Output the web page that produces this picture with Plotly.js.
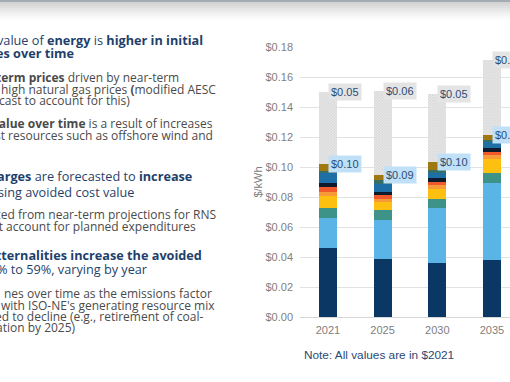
<!DOCTYPE html>
<html>
<head>
<meta charset="utf-8">
<script src="https://cdn.plot.ly/plotly-3.0.1.min.js"></script>
<style>html,body{margin:0;padding:0;background:#fff;}#chart{width:510px;height:382px;}</style>
</head>
<body>
<div id="chart"></div>
<script>
// ---- data ----
const years = ["2021", "2025", "2030", "2035"];
const componentNames = ["Component 1", "Component 2", "Component 3", "Component 4", "Component 5",
  "Component 6", "Component 7", "Component 8", "Component 9", "Component 10"];
const comp1  = [0.0460, 0.0387, 0.0360, 0.0383];
const comp2  = [0.0200, 0.0263, 0.0365, 0.0513];
const comp3  = [0.0065, 0.0061, 0.0065, 0.0064];
const comp4  = [0.0085, 0.0054, 0.0066, 0.0096];
const comp5  = [0.0025, 0.0025, 0.0022, 0.0022];
const comp6  = [0.0035, 0.0025, 0.0022, 0.0022];
const comp7  = [0.0025, 0.0020, 0.0027, 0.0030];
const comp8  = [0.0065, 0.0050, 0.0036, 0.0037];
const comp9  = [0.0015, 0.0030, 0.0017, 0.0013];
const comp10 = [0.0048, 0.0030, 0.0053, 0.0036];
const externality = [0.0480, 0.0562, 0.0452, 0.0500];
const components = [comp1, comp2, comp3, comp4, comp5, comp6, comp7, comp8, comp9, comp10];

// ---- styles ----
const compColors = ["#0b3764", "#5ab4e6", "#3d9387", "#fdc010", "#f79a3a", "#f1592a",
  "#0f1a2c", "#1d6fa6", "#356f6a", "#a07812"];
const FONT = "Liberation Sans, Arial, sans-serif";
const SLIDE_FONT = "Open Sans, Liberation Sans, Arial, sans-serif";
const BLUE = "#1f3f6b";
const GRAY = "#4a4a4a";

const traces = components.map((vals, i) => ({
  type: "bar", x: years, y: vals, name: componentNames[i], width: 0.33,
  marker: {color: compColors[i], line: {width: 0}}, hoverinfo: "skip", showlegend: false
}));
traces.push({
  type: "bar", x: years, y: externality, name: "Externalities", width: 0.33,
  marker: {color: "#e6e6e6", line: {width: 0},
    pattern: {shape: "x", fgcolor: "#cdcdcd", bgcolor: "#e9e9e9", size: 2, solidity: 0.4}},
  hoverinfo: "skip", showlegend: false
});

// totals for labels
const baseTotals = years.map((_, j) => components.reduce((s, c) => s + c[j], 0));
const fullTotals = years.map((_, j) => baseTotals[j] + externality[j]);
const fmt = v => "$" + (Math.round(v * 100) / 100).toFixed(2);

const annotations = [];
years.forEach((yr, j) => {
  annotations.push({x: j, y: fullTotals[j], xref: "x", yref: "y", xanchor: "left", yanchor: "middle",
    text: fmt(externality[j]), showarrow: false, bgcolor: "#e4e4e4", borderpad: 2,
    font: {family: FONT, size: 11, color: "#2b4c74"}});
  annotations.push({x: j, y: baseTotals[j], xref: "x", yref: "y", xanchor: "left", yanchor: "middle",
    text: fmt(baseTotals[j]), showarrow: false, bgcolor: "#bfe0f7", borderpad: 2,
    font: {family: FONT, size: 11, color: "#2b4c74"}});
});

// pixel -> paper helpers (plot area: x 300..510, y 47..317)
const px = x => (x - 300) / 210;
const py = y => (317 - y) / 270;

const H = 12.7, B = 12.0;
const textLines = [
  [204, 40, H, BLUE, "value of <b>energy</b> is <b>higher in initial</b>"],
  [75, 53.3, H, BLUE, "<b>es over time</b>"],
  [180, 77.3, B, GRAY, "<b>term prices</b> driven by near-term"],
  [217, 89.3, B, GRAY, "high natural gas prices <b>(</b>modified AESC"],
  [131, 100.5, B, GRAY, "cast to account for this)"],
  [214, 123.3, B, GRAY, "<b>value over time</b> is a result of increases"],
  [214, 135, B, GRAY, "st resources such as offshore wind and"],
  [193, 176, H, BLUE, "<b>arges</b> are forecasted to <b>increase</b>"],
  [135, 191.7, H, BLUE, "sing avoided cost value"],
  [217, 214.3, B, GRAY, "ced from near-term projections for RNS"],
  [197, 226, B, GRAY, "at account for planned expenditures"],
  [203, 255.3, H, BLUE, "<b>xternalities increase the avoided</b>"],
  [148, 269.3, H, BLUE, "% to 59%, varying by year"],
  [213, 293.3, B, GRAY, "nes over time as the emissions factor"],
  [216, 305, B, GRAY, "with ISO-NE's generating resource mix"],
  [204, 316.3, B, GRAY, "ed to decline (e.g., retirement of coal-"],
  [77, 327.7, B, GRAY, "ation by 2025)"]
];
textLines.forEach(l => annotations.push({
  x: px(l[0]), y: py(l[1]), xref: "paper", yref: "paper", xanchor: "right", yanchor: "middle",
  text: l[4], showarrow: false, align: "left", borderpad: 0,
  font: {family: SLIDE_FONT, size: l[2], color: l[3]}
}));

annotations.push({x: px(378.5), y: py(355), xref: "paper", yref: "paper", xanchor: "center", yanchor: "middle",
  text: "Note: All values are in $2021", showarrow: false,
  font: {family: FONT, size: 11.8, color: "#2a4a75"}});

// top header gradient band
const shapes = [{type: "rect", xref: "paper", yref: "paper", x0: px(0), x1: px(510), y0: py(2), y1: py(0),
  fillcolor: "#a3abb3", line: {width: 0}, layer: "above"}];
const bandColors = ["#d3d3d3", "#d9d9d9", "#dfdfdf", "#e5e5e5", "#eaeaea", "#efefef", "#f4f4f4", "#f8f8f8", "#fcfcfc"];
bandColors.forEach((c, i) => shapes.push({type: "rect", xref: "paper", yref: "paper",
  x0: px(0), x1: px(510), y0: py(2 + 2 * (i + 1)), y1: py(2 + 2 * i), fillcolor: c, line: {width: 0}, layer: "below"}));

const layout = {
  width: 510, height: 382,
  margin: {l: 300, r: 0, t: 47, b: 65, pad: 0},
  paper_bgcolor: "#ffffff", plot_bgcolor: "rgba(0,0,0,0)",
  barmode: "stack",
  font: {family: FONT, size: 11, color: "#7f7f7f"},
  xaxis: {type: "category", categoryorder: "array", categoryarray: years, range: [-0.51, 3.33],
    showgrid: false, zeroline: false, showline: false, ticks: "", ticklabelstandoff: 5,
    tickfont: {family: FONT, size: 11, color: "#808080"}},
  yaxis: {range: [0, 0.18], dtick: 0.02, tickprefix: "$", tickformat: ".2f",
    showgrid: true, gridcolor: "#e2e2e2", gridwidth: 1, zeroline: true, zerolinecolor: "#d6d6d6",
    showline: false, ticks: "", ticklabelstandoff: 6,
    tickfont: {family: FONT, size: 11, color: "#808080"},
    title: {text: "$/kWh", standoff: 0, font: {family: FONT, size: 11, color: "#808080"}}},
  annotations: annotations,
  shapes: shapes
};

Plotly.newPlot("chart", traces, layout, {staticPlot: true, displayModeBar: false});
</script>
</body>
</html>
